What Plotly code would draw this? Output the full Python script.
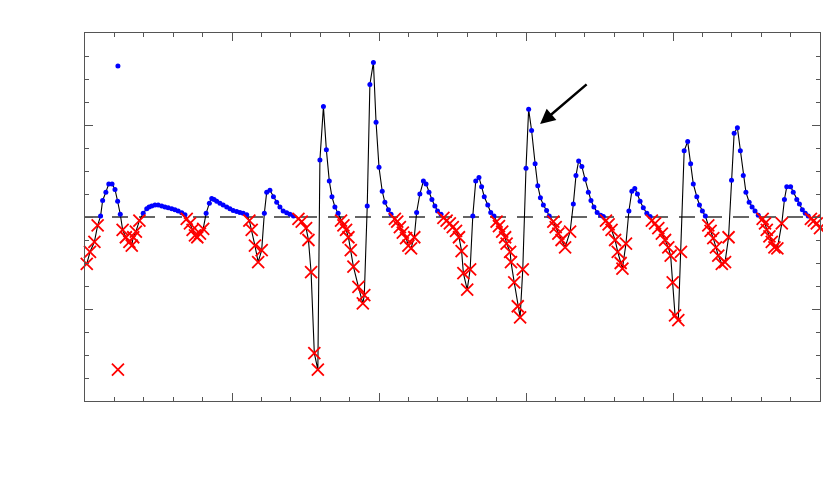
"""Oscillating residual series: positive samples as dots, negative samples as crosses."""

import numpy as np
import plotly.graph_objects as go

# sample positions (time index) and values
t = [
    0.6, 1.7, 3.2, 4.3, 5.3, 6.0, 7.1, 8.1, 9.2, 10.2, 11.1, 12.0, 12.8, 13.9, 15.1, 15.9,
    16.4, 17.3, 18.5, 19.8, 21.0, 21.8, 22.7, 23.8, 24.9, 26.1, 27.2, 28.3, 29.5, 30.6,
    31.7, 32.9, 34.0, 34.6, 35.7, 36.6, 37.4, 38.2, 39.1, 40.2, 41.2, 42.3, 43.1, 43.9,
    44.8, 45.9, 47.0, 48.2, 49.3, 50.4, 51.6, 52.7, 53.8, 55.0, 55.9, 56.7, 57.8, 58.9,
    60.1, 61.0, 61.8, 62.9, 64.1, 65.2, 66.3, 67.4, 68.6, 69.7, 70.9, 72.6, 73.7, 75.2,
    76.0, 76.9, 78.0, 79.2, 79.9, 81.1, 82.1, 83.1, 84.0, 85.0, 86.1, 87.1, 87.9, 88.8,
    89.6, 90.4, 91.3, 93.0, 94.5, 95.0, 96.0, 96.9, 98.1, 99.0, 100.0, 101.1, 102.0,
    103.2, 104.1, 105.4, 106.2, 107.1, 108.1, 109.2, 110.0, 110.9, 112.0, 112.8, 113.9,
    115.1, 116.0, 117.0, 118.0, 119.0, 119.9, 121.1, 121.9, 123.0, 124.1, 125.1, 126.2,
    127.2, 128.1, 128.7, 130.0, 131.0, 131.9, 132.9, 134.0, 134.9, 135.8, 137.0, 138.0,
    139.1, 140.0, 140.8, 141.9, 142.9, 143.4, 144.6, 144.9, 146.0, 147.2, 148.0, 148.9,
    150.0, 150.9, 151.9, 153.1, 154.0, 154.9, 155.9, 157.0, 157.9, 159.3, 160.1, 161.0,
    162.1, 163.3, 165.0, 166.1, 167.0, 167.9, 169.0, 170.1, 171.2, 172.1, 173.1, 174.2,
    175.4, 176.3, 177.2, 178.1, 179.1, 180.3, 181.2, 182.2, 182.8, 184.0, 185.0, 186.0,
    187.0, 187.9, 188.8, 189.9, 191.1, 192.2, 192.8, 193.9, 195.0, 196.2, 197.3, 198.4,
    199.2, 199.9, 200.7, 201.8, 202.7, 203.8, 205.0, 206.0, 206.9, 208.1, 209.0, 210.0,
    211.0, 212.0, 212.8, 213.7, 214.6, 215.4, 216.6, 217.7, 218.9, 219.9, 220.8, 221.9,
    222.9, 223.9, 224.8, 225.9, 226.9, 227.9, 229.0, 230.5, 231.3, 231.9, 232.8, 233.6,
    234.5, 235.5, 237.0, 237.9, 238.7, 240.0, 240.9, 242.1, 243.0, 244.0, 245.0, 246.0,
    246.9, 247.9, 248.9, 250.0,
]
values = [
    -0.51, -0.38, -0.27, -0.09, 0.01, 0.18, 0.27, 0.36, 0.36, 0.30, 0.17, 0.03, -0.14, -0.22, -0.27, -0.31,
    -0.22, -0.16, -0.04, 0.04, 0.09, 0.11, 0.12, 0.13, 0.13, 0.12, 0.11, 0.10, 0.09, 0.08,
    0.065, 0.045, 0.025, -0.02, -0.07, -0.14, -0.20, -0.22, -0.18, -0.13, 0.04, 0.15, 0.20, 0.19,
    0.17, 0.15, 0.13, 0.11, 0.09, 0.07, 0.06, 0.05, 0.04, 0.025, -0.04, -0.14, -0.31, -0.49,
    -0.36, 0.04, 0.27, 0.29, 0.22, 0.16, 0.11, 0.065, 0.045, 0.03, 0.01, -0.02, -0.05, -0.12,
    -0.25, -0.60, -1.48, -1.66, 0.62, 1.20, 0.73, 0.39, 0.22, 0.11, 0.04, -0.04, -0.09, -0.14,
    -0.22, -0.36, -0.54, -0.76, -0.94, -0.85, 0.12, 1.44, 1.68, 1.03, 0.54, 0.28, 0.16,
    0.08, 0.03, -0.02, -0.05, -0.11, -0.17, -0.23, -0.31, -0.34, -0.22, 0.05, 0.25,
    0.39, 0.36, 0.27, 0.19, 0.12, 0.065, 0.03, -0.01, -0.04, -0.07, -0.11, -0.15,
    -0.22, -0.37, -0.61, -0.79, -0.57, 0.01, 0.39, 0.43, 0.33, 0.22, 0.13, 0.05,
    0.01, -0.05, -0.10, -0.16, -0.22, -0.29, -0.38, -0.49, -0.71, -0.97, -1.09, -0.57,
    0.53, 1.17, 0.94, 0.58, 0.34, 0.21, 0.13, 0.07, 0.01, -0.05, -0.11, -0.18,
    -0.25, -0.33, -0.16, 0.14, 0.45, 0.61, 0.55, 0.41, 0.27, 0.18, 0.11, 0.05,
    0.02, 0.005, -0.04, -0.08, -0.14, -0.25, -0.38, -0.50, -0.56, -0.29, 0.065, 0.28,
    0.31, 0.25, 0.17, 0.10, 0.04, 0.005, -0.04, -0.07, -0.12, -0.18, -0.25, -0.33,
    -0.42, -0.71, -1.07, -1.12, -0.38, 0.72, 0.82, 0.58, 0.36, 0.22, 0.13, 0.065,
    0.01, -0.09, -0.15, -0.23, -0.33, -0.42, -0.51, -0.49, -0.22, 0.40, 0.91, 0.97,
    0.72, 0.45, 0.27, 0.16, 0.11, 0.065, 0.02, -0.02, -0.07, -0.14, -0.21, -0.27,
    -0.33, -0.34, -0.07, 0.19, 0.33, 0.33, 0.27, 0.19, 0.14, 0.08, 0.04, 0.01,
    -0.02, -0.04, -0.07, -0.12,
]

# stray samples drawn without the connecting line
outlier_t = [11.2, 11.2]
outlier_values = [1.64, -1.66]

# annotated peak
arrow_t = 154.8
arrow_value = 1.01

t_arr = np.array(t)
v_arr = np.array(values)
pos = v_arr >= 0
out_t = np.array(outlier_t)
out_v = np.array(outlier_values)

dot = dict(symbol='circle', size=5, color='#0000ff')
cross = dict(symbol='x-thin-open', size=12, color='#ff0000',
             line=dict(color='#ff0000', width=1.8))

fig = go.Figure()

fig.add_hline(y=0, line=dict(color='#333333', width=1.3, dash='16px,11px'), layer='below')

fig.add_trace(go.Scatter(
    x=t_arr, y=v_arr, mode='lines',
    line=dict(color='black', width=1.1), hoverinfo='skip',
))
fig.add_trace(go.Scatter(
    x=t_arr[pos], y=v_arr[pos], mode='markers', name='positive',
    marker=dot, cliponaxis=False,
))
fig.add_trace(go.Scatter(
    x=t_arr[~pos], y=v_arr[~pos], mode='markers', name='negative',
    marker=cross, cliponaxis=False,
))
fig.add_trace(go.Scatter(
    x=out_t[out_v >= 0], y=out_v[out_v >= 0], mode='markers', marker=dot,
))
fig.add_trace(go.Scatter(
    x=out_t[out_v < 0], y=out_v[out_v < 0], mode='markers', marker=cross,
))

fig.add_annotation(
    x=arrow_t, y=arrow_value, text='', showarrow=True,
    ax=48, ay=-41, arrowhead=2, arrowsize=1.2, arrowwidth=2.5, arrowcolor='black',
)

axis_style = dict(
    showgrid=False, zeroline=False, showline=True, linecolor='#555555', linewidth=1,
    mirror='allticks', ticks='inside', ticklen=8, tickcolor='#555555', tickwidth=1,
    showticklabels=False,
)
fig.update_xaxes(range=[0, 250], dtick=50, tick0=0,
                 minor=dict(dtick=10, ticks='inside', ticklen=4, tickcolor='#555555'),
                 **axis_style)
fig.update_yaxes(range=[-2, 2], dtick=1, tick0=0,
                 minor=dict(dtick=0.25, ticks='inside', ticklen=4, tickcolor='#555555'),
                 **axis_style)

# page body keeps an 8px margin, so the figure is sized to fit inside it
fig.update_layout(
    width=815, height=473, showlegend=False,
    plot_bgcolor='white', paper_bgcolor='white',
    margin=dict(l=77, r=3, t=25, b=80),
)

fig.write_html("out.html")
